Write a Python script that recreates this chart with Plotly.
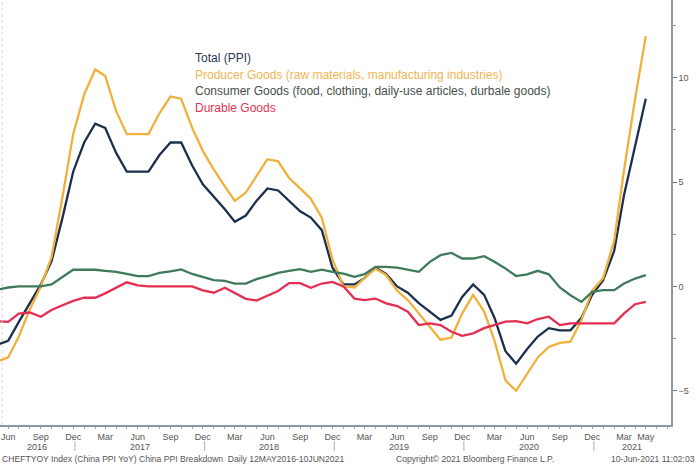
import pandas as pd
import plotly.graph_objects as go

# monthly YoY %, May 2016 .. May 2021
months = pd.date_range("2016-05-01", "2021-05-01", freq="MS")

total_ppi = [-2.8, -2.6, -1.7, -0.8, 0.1, 1.2, 3.3, 5.5,
             6.9, 7.8, 7.6, 6.4, 5.5, 5.5, 5.5, 6.3, 6.9, 6.9, 5.8, 4.9,
             4.3, 3.7, 3.1, 3.4, 4.1, 4.7, 4.6, 4.1, 3.6, 3.3, 2.7, 0.9,
             0.1, 0.1, 0.4, 0.9, 0.6, 0.0, -0.3, -0.8, -1.2, -1.6, -1.4, -0.5,
             0.1, -0.4, -1.5, -3.1, -3.7, -3.0, -2.4, -2.0, -2.1, -2.1, -1.5, -0.4,
             0.3, 1.7, 4.4, 6.8, 9.0]

producer_goods = [-3.6, -3.4, -2.4, -1.1, 0.0, 1.4, 4.3, 7.3,
                  9.2, 10.4, 10.1, 8.4, 7.3, 7.3, 7.3, 8.3, 9.1, 9.0, 7.6, 6.5,
                  5.6, 4.8, 4.1, 4.5, 5.3, 6.1, 6.0, 5.2, 4.7, 4.2, 3.3, 1.3,
                  0.0, -0.05, 0.4, 0.85, 0.55, -0.2, -0.65, -1.3, -1.9, -2.55, -2.45, -1.3,
                  -0.4, -1.2, -2.6, -4.5, -5.0, -4.2, -3.4, -2.9, -2.7, -2.65, -1.6, -0.2,
                  0.4, 2.2, 5.6, 9.0, 12.0]

consumer_goods = [-0.15, -0.05, 0.0, 0.0, 0.0, 0.1, 0.45, 0.8,
                  0.8, 0.8, 0.75, 0.7, 0.6, 0.5, 0.5, 0.65, 0.72, 0.82, 0.6, 0.45,
                  0.3, 0.27, 0.14, 0.14, 0.35, 0.5, 0.65, 0.75, 0.83, 0.7, 0.81, 0.7,
                  0.62, 0.46, 0.59, 0.94, 0.94, 0.9, 0.81, 0.7, 1.18, 1.5, 1.61, 1.34,
                  1.34, 1.45, 1.18, 0.86, 0.5, 0.58, 0.75, 0.58, -0.05, -0.42, -0.74, -0.26,
                  -0.18, -0.18, 0.14, 0.38, 0.54]

durable_goods = [-1.66, -1.7, -1.3, -1.25, -1.45, -1.13, -0.9, -0.69,
                 -0.54, -0.54, -0.33, -0.05, 0.2, 0.05, 0.0, 0.0, 0.0, 0.0, 0.0, -0.19,
                 -0.3, -0.06, -0.32, -0.59, -0.67, -0.46, -0.22, 0.16, 0.16, -0.06, 0.14, 0.22,
                 0.0, -0.58, -0.65, -0.58, -0.81, -0.94, -1.21, -1.85, -1.77, -1.85, -2.17, -2.37,
                 -2.25, -2.0, -1.85, -1.69, -1.66, -1.77, -1.56, -1.45, -1.85, -1.77, -1.77, -1.77,
                 -1.77, -1.77, -1.29, -0.85, -0.74]

labels = ["Total (PPI)",
          "Producer Goods (raw materials, manufacturing industries)",
          "Consumer Goods (food, clothing, daily-use articles, durbale goods)",
          "Durable Goods"]
line_colors = ["#1c2f4c", "#f0b13c", "#3f7b5b", "#e62d52"]
text_colors = ["#2b3a52", "#f2b452", "#47504a", "#e43352"]

tick_dates = ["2016-06-01", "2016-09-01", "2016-12-01", "2017-03-01", "2017-06-01",
              "2017-09-01", "2017-12-01", "2018-03-01", "2018-06-01", "2018-09-01",
              "2018-12-01", "2019-03-01", "2019-06-01", "2019-09-01", "2019-12-01",
              "2020-03-01", "2020-06-01", "2020-09-01", "2020-12-01", "2021-03-01",
              "2021-05-01"]
tick_text = ["Jun", "Sep", "Dec", "Mar", "Jun", "Sep", "Dec", "Mar", "Jun", "Sep",
             "Dec", "Mar", "Jun", "Sep", "Dec", "Mar", "Jun", "Sep", "Dec", "Mar", "May"]
years = ["2016", "2017", "2018", "2019", "2020", "2021"]

x_start = pd.Timestamp("2016-05-09")
x_end = pd.Timestamp("2021-07-11")
seps = [pd.Timestamp(f"{y}-12-06") for y in years[:-1]]

W, H = 700, 471
plot_h = 425
font = "Liberation Sans, Arial, sans-serif"

fig = go.Figure()
for vals, name, c in zip([total_ppi, producer_goods, consumer_goods, durable_goods],
                         labels, line_colors):
    fig.add_trace(go.Scatter(x=months, y=vals, mode="lines", name=name,
                             line=dict(color=c, width=2.3), showlegend=False))

annotations = []
row_y = [58, 74.5, 91, 107.5]
for name, c, ry in zip(labels, text_colors, row_y):
    annotations.append(dict(text=name, xref="paper", yref="paper", x=193 / 671,
                            y=1 - ry / plot_h, xanchor="left", yanchor="middle",
                            showarrow=False, font=dict(size=12, color=c, family=font)))

# year labels centred on each year's visible span
bounds = [x_start] + seps + [x_end]
for i, yr in enumerate(years):
    mid = bounds[i] + (bounds[i + 1] - bounds[i]) / 2
    annotations.append(dict(text=yr, x=mid, xref="x", y=0, yref="paper",
                            yshift=-22, yanchor="middle", showarrow=False,
                            font=dict(size=9, color="#555555", family=font)))

shapes = []
for s in seps:
    shapes.append(dict(type="line", xref="x", yref="paper", x0=s, x1=s,
                       y0=-16 / plot_h, y1=-26 / plot_h,
                       line=dict(color="#b0b0b0", width=1)))
shapes.append(dict(type="line", xref="paper", yref="paper", x0=0.003, x1=0.003,
                   y0=0, y1=1, line=dict(color="#d0d0d0", width=1, dash="dot")))

foot = dict(size=8.6, color="#555555", family=font)
annotations += [
    dict(text="CHEFTYOY Index (China PPI YoY) China PPI Breakdown  Daily 12MAY2016-10JUN2021",
         xref="paper", yref="paper", x=0, y=0, yshift=-34, xanchor="left",
         yanchor="middle", showarrow=False, font=foot),
    dict(text="Copyright\u00a9 2021 Bloomberg Finance L.P.", xref="paper", yref="paper",
         x=394 / 671, y=0, yshift=-34, xanchor="left", yanchor="middle",
         showarrow=False, font=foot),
    dict(text="10-Jun-2021 11:02:03", xref="paper", yref="paper", x=697 / 671, y=0,
         yshift=-34, xanchor="right", yanchor="middle", showarrow=False, font=foot),
]

fig.update_layout(
    width=W, height=H,
    margin=dict(l=0, r=29, t=0, b=46),
    paper_bgcolor="white", plot_bgcolor="white",
    font=dict(family=font, size=10, color="#555555"),
    annotations=annotations, shapes=shapes,
)
fig.update_xaxes(range=[x_start, x_end], tickvals=tick_dates, ticktext=tick_text,
                 showgrid=False, zeroline=False, showline=True, linecolor="#8c98a4",
                 linewidth=1.5, ticks="outside", ticklen=2, tickcolor="#8c98a4",
                 tickfont=dict(size=9, color="#555555"),
                 minor=dict(dtick="M1", tick0="2016-05-01", ticks="outside",
                            ticklen=2, tickcolor="#a0aab4"))
fig.update_yaxes(range=[-6.64, 13.73], side="right", tickvals=[-5, 0, 5, 10],
                 showgrid=False, zeroline=False, showline=True, linecolor="#8c98a4",
                 linewidth=1.5, ticks="outside", ticklen=4, tickcolor="#6a7682",
                 tickfont=dict(size=9, color="#555555"),
                 minor=dict(dtick=2.5, tick0=0, ticks="outside", ticklen=3,
                            tickcolor="#8c98a4"))

# drop the default page margin so the figure sits flush in the window
fig.write_html("out.html", config={"displayModeBar": False},
               post_script="document.body.style.margin='0px';")
